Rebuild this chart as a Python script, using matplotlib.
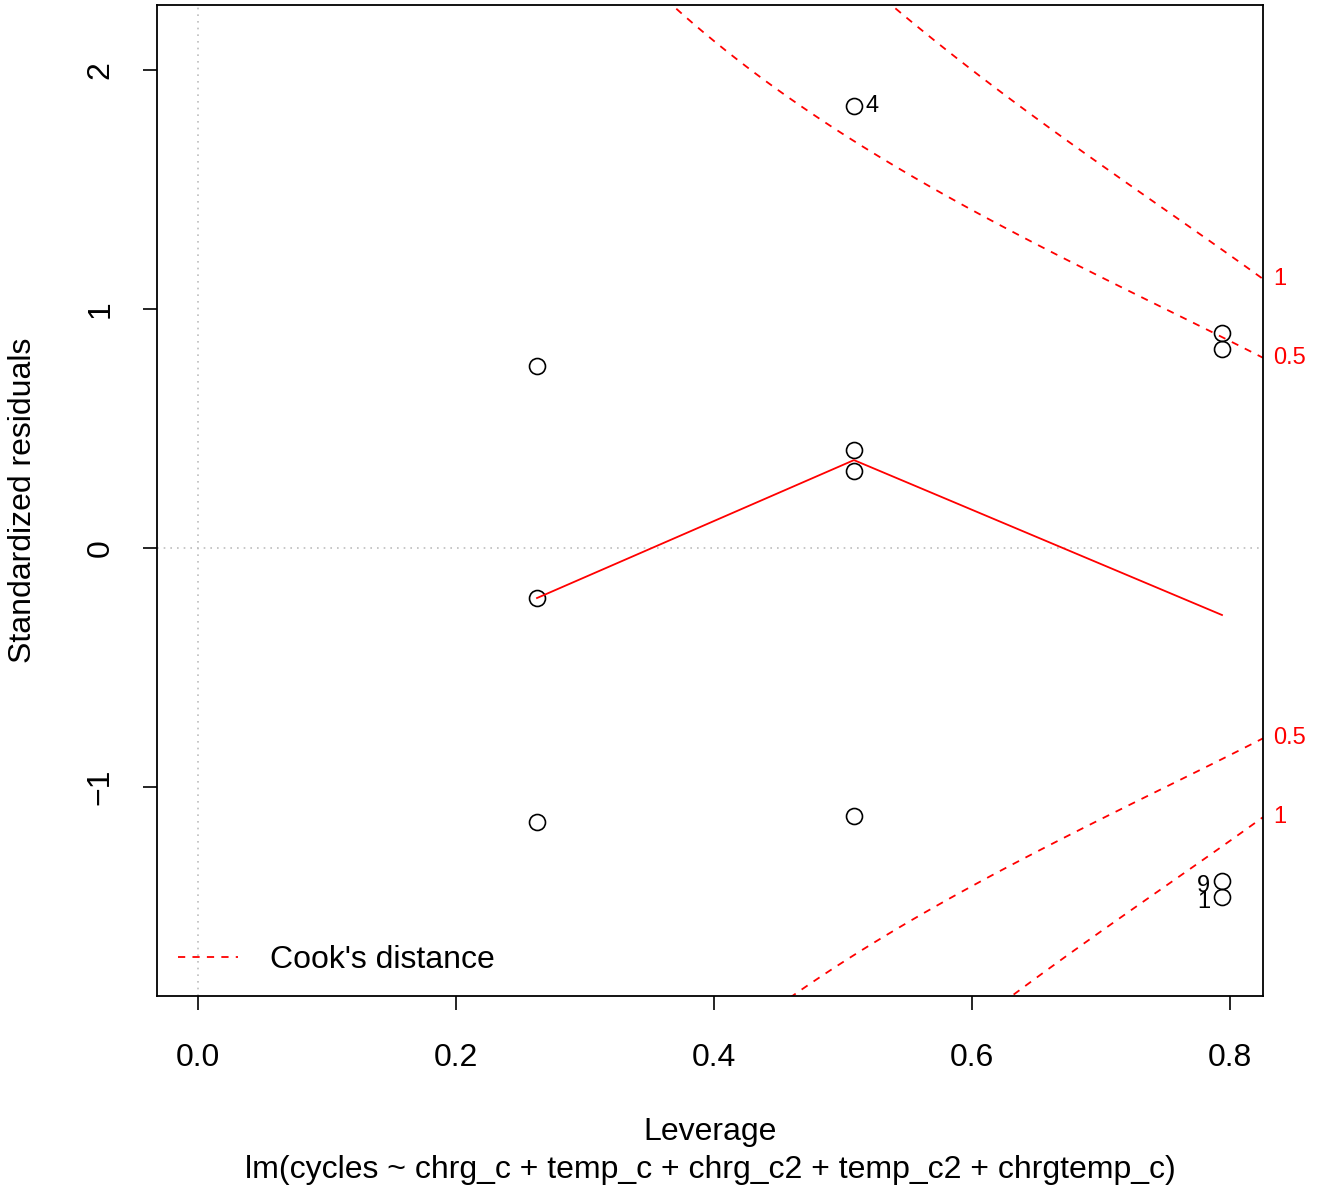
import numpy as np
import matplotlib.pyplot as plt

plt.rcParams['font.family'] = ['Liberation Sans', 'DejaVu Sans']

# leverage and standardized residuals
leverage = [0.2628, 0.2628, 0.2628, 0.5085, 0.5085, 0.5085, 0.5085,
            0.7938, 0.7938, 0.7938, 0.7938]
std_resid = [0.761, -0.209, -1.146, 1.849, 0.410, 0.322, -1.121,
             0.900, 0.833, -1.393, -1.460]
ids = ["", "", "", "4", "", "", "", "", "", "9", "1"]

# smoother through the points
smooth_x = [0.2628, 0.5085, 0.7938]
smooth_y = [-0.209, 0.368, -0.280]

n_params = 6
cook_levels = [0.5, 1]
cook_labels = ["0.5", "1"]

fig = plt.figure(figsize=(13.41, 11.90), dpi=100)
ax = fig.add_axes([157 / 1341, 1 - 996 / 1190, (1263 - 157) / 1341, (996 - 5) / 1190])

xmin, xmax = -0.0318, 0.8256
ymin, ymax = -1.874, 2.272
ax.set_xlim(xmin, xmax)
ax.set_ylim(ymin, ymax)

ax.axhline(0, color='#bebebe', ls=(0, (1, 3)), lw=1.2)
ax.axvline(0, color='#bebebe', ls=(0, (1, 3)), lw=1.2)

ax.plot(leverage, std_resid, 'o', mfc='none', mec='black', ms=11.5, mew=1.2)
ax.plot(smooth_x, smooth_y, color='red', lw=1.3)

# Cook's distance contours
hh = np.linspace(min(min(leverage), max(leverage) / 100), xmax, 101)
for i, crit in enumerate(cook_levels):
    cl = np.sqrt(crit * n_params * (1 - hh) / hh)
    kw = dict(color='red', ls=(0, (4, 4)), lw=1.3)
    if i == 0:
        ax.plot(hh, cl, label="Cook's distance", **kw)
    else:
        ax.plot(hh, cl, **kw)
    ax.plot(hh, -cl, **kw)
    yr = np.sqrt(crit * n_params * (1 - xmax) / xmax)
    for yy in (yr, -yr):
        ax.text(xmax + 0.008, yy, cook_labels[i], color='red', fontsize=17,
                ha='left', va='center', clip_on=False)

for x, y, lab in zip(leverage, std_resid, ids):
    if lab == "":
        continue
    if x > np.mean(leverage):
        ax.text(x - 0.009, y - 0.02, lab, fontsize=17, ha='right', va='center')
    else:
        ax.text(x + 0.009, y, lab, fontsize=17, ha='left', va='center')

ax.set_xticks([0.0, 0.2, 0.4, 0.6, 0.8])
ax.set_xticklabels(["0.0", "0.2", "0.4", "0.6", "0.8"])
ax.set_yticks([-1, 0, 1, 2])
ax.set_yticklabels(["\u22121", "0", "1", "2"], rotation=90, va='center')
ax.tick_params(labelsize=23, length=10, width=1.2)
ax.tick_params(axis='x', pad=24)
ax.tick_params(axis='y', pad=20)
for s in ax.spines.values():
    s.set_linewidth(1.3)

ax.set_ylabel("Standardized residuals", fontsize=23, labelpad=34)
fig.text((157 + 1263) / 2 / 1341, 1 - 1132 / 1190, "Leverage", fontsize=23,
         ha='center', va='center')
fig.text((157 + 1263) / 2 / 1341, 1 - 1170 / 1190,
         "lm(cycles ~ chrg_c + temp_c + chrg_c2 + temp_c2 + chrgtemp_c)",
         fontsize=23, ha='center', va='center')

ax.legend(loc='lower left', frameon=False, fontsize=23, handlelength=1.9,
          handletextpad=1.0, borderaxespad=0.25)

fig.savefig("out.png", dpi=100)
